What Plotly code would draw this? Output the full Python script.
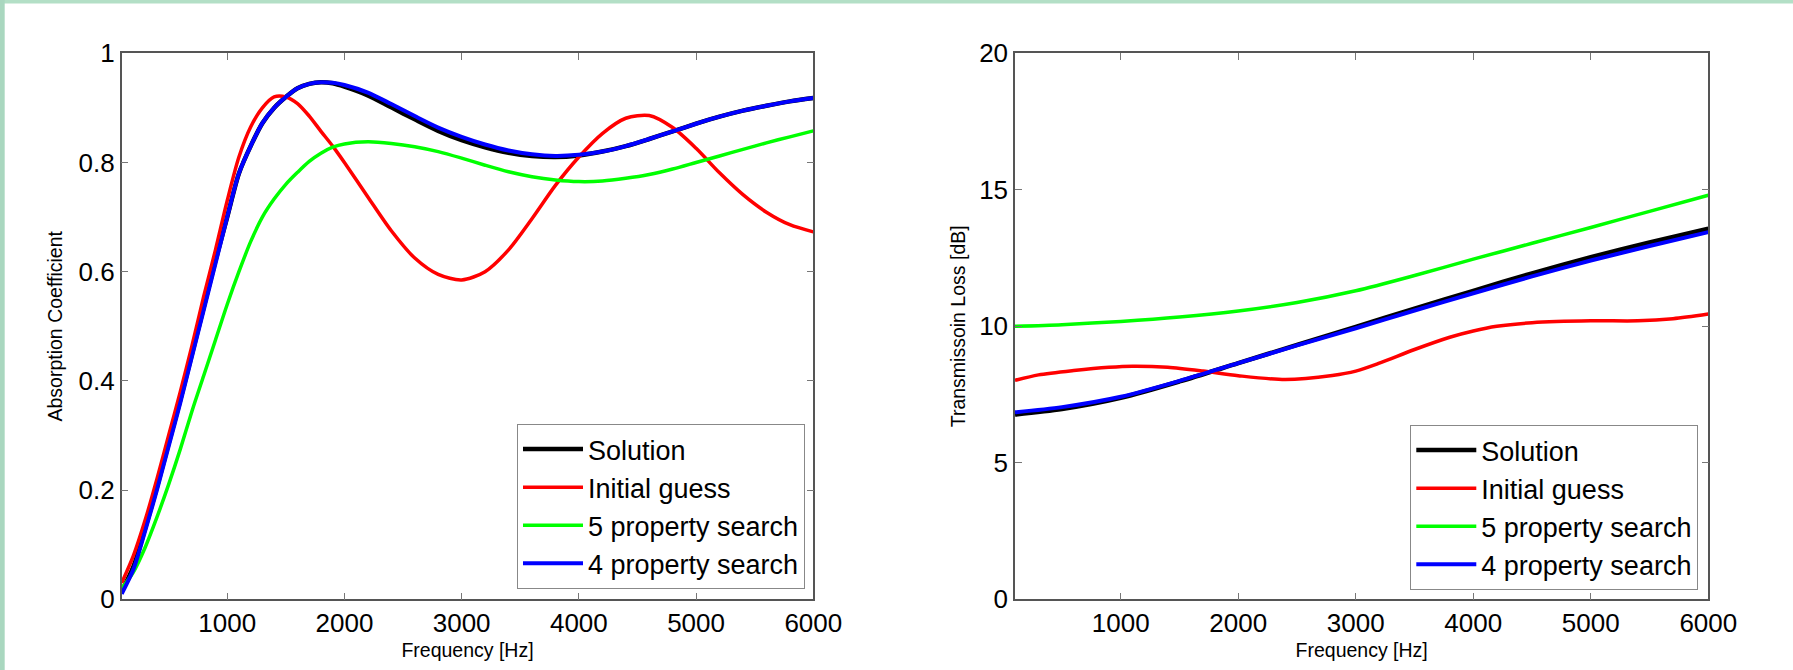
import plotly.graph_objects as go

# ---------------- data: absorption coefficient (left) ----------------
freq_a = [100, 200, 300, 400, 500, 600, 700, 800, 900, 1000, 1100, 1200, 1300, 1400,
          1500, 1600, 1700, 1800, 1900, 2000, 2200, 2400, 2600, 2800, 3000, 3200,
          3400, 3600, 3800, 4000, 4200, 4400, 4600, 4800, 5000, 5200, 5400, 5600,
          5800, 6000]
abs_solution = [0.015, 0.06, 0.13, 0.205, 0.285, 0.365, 0.45, 0.535, 0.62, 0.70, 0.78,
                0.83, 0.872, 0.90, 0.92, 0.936, 0.944, 0.947, 0.945, 0.939, 0.923,
                0.901, 0.879, 0.858, 0.841, 0.828, 0.818, 0.812, 0.810, 0.813, 0.820,
                0.830, 0.843, 0.857, 0.871, 0.884, 0.895, 0.904, 0.912, 0.918]
abs_initial = [0.03, 0.08, 0.145, 0.22, 0.30, 0.38, 0.465, 0.555, 0.64, 0.73, 0.81,
               0.865, 0.90, 0.92, 0.92, 0.908, 0.885, 0.857, 0.83, 0.80, 0.737,
               0.675, 0.625, 0.595, 0.585, 0.600, 0.640, 0.697, 0.758, 0.81, 0.853,
               0.881, 0.886, 0.864, 0.826, 0.781, 0.741, 0.709, 0.686, 0.673]
abs_5prop = [0.02, 0.05, 0.095, 0.15, 0.21, 0.275, 0.345, 0.41, 0.475, 0.54, 0.60,
             0.655, 0.70, 0.733, 0.76, 0.782, 0.802, 0.817, 0.828, 0.834, 0.838,
             0.835, 0.829, 0.82, 0.808, 0.795, 0.783, 0.774, 0.768, 0.765, 0.766,
             0.771, 0.778, 0.788, 0.80, 0.812, 0.824, 0.836, 0.847, 0.858]
abs_4prop = [0.01, 0.055, 0.125, 0.20, 0.28, 0.36, 0.445, 0.53, 0.615, 0.70, 0.78,
             0.83, 0.872, 0.90, 0.92, 0.936, 0.944, 0.947, 0.946, 0.942, 0.928,
             0.907, 0.885, 0.864, 0.847, 0.833, 0.822, 0.815, 0.812, 0.814, 0.820,
             0.830, 0.843, 0.857, 0.871, 0.884, 0.895, 0.904, 0.912, 0.918]

# ---------------- data: transmission loss (right) ----------------
freq_t = [100, 500, 1000, 1500, 2000, 2500, 3000, 3500, 4000, 4500, 5000, 5500, 6000]
tl_solution = [6.77, 6.97, 7.38, 7.98, 8.65, 9.32, 9.98, 10.65, 11.30, 11.94, 12.53, 13.07, 13.58]
tl_5prop = [10.0, 10.06, 10.18, 10.34, 10.56, 10.87, 11.30, 11.86, 12.46, 13.04, 13.62, 14.21, 14.8]
tl_4prop = [6.85, 7.04, 7.42, 8.00, 8.65, 9.30, 9.93, 10.58, 11.21, 11.83, 12.41, 12.94, 13.45]
freq_t_init = [100, 300, 600, 900, 1100, 1400, 1700, 2000, 2400, 2800, 3000, 3200, 3500,
               3800, 4000, 4200, 4500, 5000, 5400, 5700, 6000]
tl_initial = [8.02, 8.22, 8.38, 8.50, 8.54, 8.50, 8.36, 8.19, 8.05, 8.20, 8.36, 8.65,
              9.15, 9.60, 9.83, 10.0, 10.13, 10.2, 10.2, 10.28, 10.45]

series_names = ["Solution", "Initial guess", "5 property search", "4 property search"]
colors = ["#000000", "#ff0000", "#00ff00", "#0000ff"]
widths = [4.5, 3.5, 3.5, 4]

W, H = 1793, 670
FONT = "Liberation Sans, Arial, Helvetica, sans-serif"

fig = go.Figure()

left_sets = [(freq_a, abs_solution), (freq_a, abs_initial), (freq_a, abs_5prop), (freq_a, abs_4prop)]
right_sets = [(freq_t, tl_solution), (freq_t_init, tl_initial), (freq_t, tl_5prop), (freq_t, tl_4prop)]

for i, (xs, ys) in enumerate(left_sets):
    fig.add_trace(go.Scatter(x=xs, y=ys, mode="lines", name=series_names[i],
                             line=dict(color=colors[i], width=widths[i], shape="spline", smoothing=0.8),
                             xaxis="x", yaxis="y", legend="legend"))
for i, (xs, ys) in enumerate(right_sets):
    fig.add_trace(go.Scatter(x=xs, y=ys, mode="lines", name=series_names[i],
                             line=dict(color=colors[i], width=widths[i], shape="spline", smoothing=0.8),
                             xaxis="x2", yaxis="y2", legend="legend2"))

def px_x(p):
    return p / W

def px_y(p):
    return (H - p) / H

axis_common = dict(
    showgrid=False, zeroline=False, showline=True, linecolor="#555555", linewidth=1.5,
    mirror="allticks", ticks="inside", ticklen=7, tickcolor="#777777", tickwidth=1,
    tickfont=dict(family=FONT, size=26, color="#000000"), automargin=False,
)

legend_common = dict(xanchor="right", yanchor="bottom",
                     bgcolor="#ffffff", bordercolor="#888888", borderwidth=1,
                     font=dict(family=FONT, size=27, color="#000000"), itemwidth=60,
                     tracegroupgap=0)

fig.update_layout(
    width=W, height=H,
    margin=dict(l=0, r=0, t=0, b=0),
    paper_bgcolor="#ffffff", plot_bgcolor="#ffffff",
    font=dict(family=FONT, color="#000000"),
    xaxis=dict(domain=[px_x(121.7), px_x(813.3)], range=[100, 6000], anchor="y",
               tickvals=[1000, 2000, 3000, 4000, 5000, 6000],
               title=dict(text="Frequency [Hz]", font=dict(size=19.5), standoff=6),
               **axis_common),
    yaxis=dict(domain=[px_y(599.3), px_y(53.3)], range=[0, 1], anchor="x",
               tickvals=[0, 0.2, 0.4, 0.6, 0.8, 1], ticktext=["0", "0.2", "0.4", "0.6", "0.8", "1"],
               title=dict(text="Absorption Coefficient", font=dict(size=19.5), standoff=11),
               **axis_common),
    xaxis2=dict(domain=[px_x(1015), px_x(1708.3)], range=[100, 6000], anchor="y2",
                tickvals=[1000, 2000, 3000, 4000, 5000, 6000],
                title=dict(text="Frequency [Hz]", font=dict(size=19.5), standoff=6),
                **axis_common),
    yaxis2=dict(domain=[px_y(599.3), px_y(53.3)], range=[0, 20], anchor="x2",
                tickvals=[0, 5, 10, 15, 20],
                title=dict(text="Transmissoin Loss [dB]", font=dict(size=19.5), standoff=8),
                **axis_common),
    legend=dict(x=px_x(805), y=px_y(589), **legend_common),
    legend2=dict(x=px_x(1698.3), y=px_y(590), **legend_common),
    showlegend=True,
    shapes=[
        dict(type="rect", xref="paper", yref="paper", x0=0, x1=1, y0=px_y(3.5), y1=1,
             fillcolor="#b3dfc6", line=dict(width=0), layer="below"),
        dict(type="rect", xref="paper", yref="paper", x0=0, x1=px_x(4.7), y0=0, y1=1,
             fillcolor="#a9d7bf", line=dict(width=0), layer="below"),
    ],
)

fig.write_html("out.html")
